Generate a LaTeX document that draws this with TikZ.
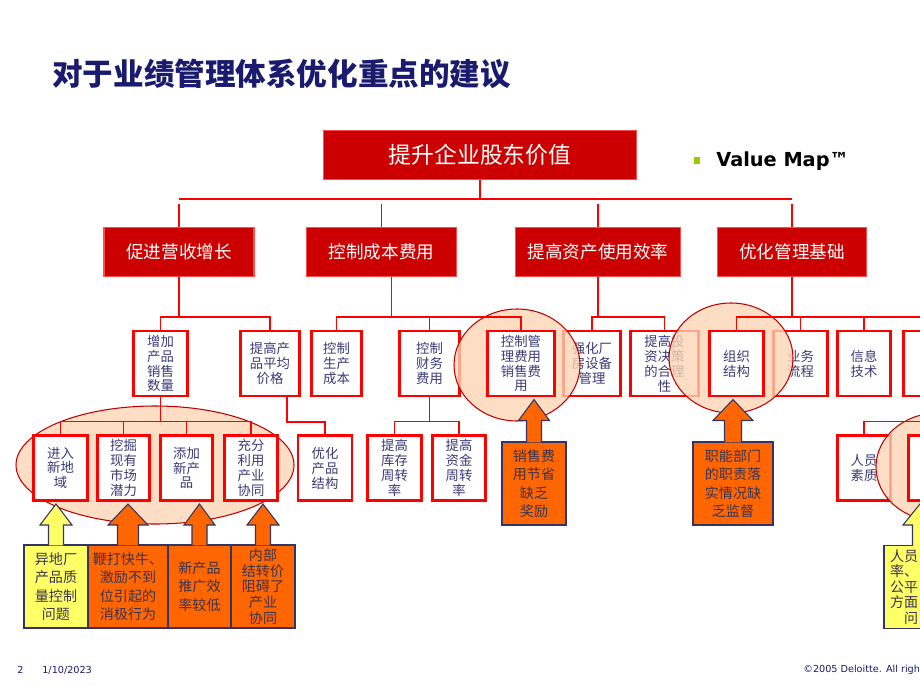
\documentclass[tikz,border=0pt]{standalone}
\usepackage{fontspec}
\usepackage{tikz}
\usetikzlibrary{calc}
\newfontfamily\cjk{Noto Sans CJK SC}
\newfontfamily\latin{DejaVu Sans}

\definecolor{boxred}{HTML}{CC0000}
\definecolor{linered}{HTML}{FF0000}
\definecolor{navy}{HTML}{1A1A6E}
\definecolor{txtblue}{HTML}{3B3B77}
\definecolor{peach}{HTML}{FDD5B4}
\definecolor{ellred}{HTML}{C00000}
\definecolor{orng}{HTML}{FF6600}
\definecolor{yel}{HTML}{FFFF66}
\definecolor{arrnavy}{HTML}{333366}
\definecolor{bullet}{HTML}{99CC00}
\definecolor{qtext}{HTML}{3A3350}

\def\px{0.02cm}

\tikzset{
  main/.style={fill=boxred, draw=red!70, line width=0.6pt, text=white, inner sep=0pt,
    minimum height=49*\px, font=\cjk\fontsize{10}{12}\selectfont},
  sub/.style={fill=white, draw=linered, line width=1.7pt, text=txtblue, align=center,
    inner sep=0pt, minimum height=65*\px, font=\cjk\fontsize{7.6}{8.5}\selectfont},
  link/.style={draw=linered, line width=0.7pt},
  hl/.style={draw=ellred, line width=0.6pt, fill=peach, fill opacity=0.78},
  cause/.style={draw=arrnavy, line width=0.6pt, text=qtext, align=center, inner sep=0pt,
    minimum height=83*\px, font=\cjk\fontsize{8}{10.5}\selectfont},
  arr/.style={draw=arrnavy, line width=0.6pt},
}

% block arrow from the north of #1 up to the south of #2
\newcommand{\uparr}[5]{%
  \filldraw[arr, fill=#5] let \p1=(#1.north), \p2=(#2.south) in
    (\x1-#3*\px, \y1-1*\px) -- (\x1-#3*\px, \y2-23*\px) -- (\x1-#4*\px, \y2-23*\px)
    -- (\x1, \y2-2*\px) -- (\x1+#4*\px, \y2-23*\px) -- (\x1+#3*\px, \y2-23*\px)
    -- (\x1+#3*\px, \y1-1*\px);
}

\begin{document}
\begin{tikzpicture}[x=\px, y=-\px]
  \useasboundingbox (0,0) rectangle (920,690);
  \clip (0,0) rectangle (920,690);

  \coordinate (r1) at (0,199);
  \coordinate (r1b) at (0,204);
  \coordinate (r3) at (0,317);
  \coordinate (r4) at (0,421.5);

  % title and labels
  \node[anchor=west, text=navy, inner sep=0pt, font=\cjk\bfseries\fontsize{17.4}{20}\selectfont] (title) at (52,74) {对于业绩管理体系优化重点的建议};
  \fill[bullet] (694,157) rectangle (700,164);
  \node[anchor=west, inner sep=0pt, font=\latin\bfseries\fontsize{11}{13}\selectfont] (vmap) at (716,161) {Value Map™};
  \node[anchor=west, text=navy, inner sep=0pt, font=\latin\fontsize{5.5}{7}\selectfont] (pg) at (17,670) {2};
  \node[anchor=west, text=navy, inner sep=0pt, font=\latin\fontsize{5.5}{7}\selectfont] (date) at (42,670) {1/10/2023};
  \node[anchor=west, text=navy, inner sep=0pt, font=\latin\fontsize{5.5}{7}\selectfont] (copy) at (803,670) {©2005 Deloitte. All rights reserved.};

  % top and second level
  \node[main, minimum width=313*\px, font=\cjk\fontsize{13}{15}\selectfont] (top) at (480,155) {提升企业股东价值};
  \node[main, minimum width=150*\px] (b1) at (179,252) {促进营收增长};
  \node[main, minimum width=150*\px] (b2) at (381.5,252) {控制成本费用};
  \node[main, minimum width=165*\px] (b3) at (598,252) {提高资产使用效率};
  \node[main, minimum width=149*\px] (b4) at (792,252) {优化管理基础};

  % boxes under the highlights
  \node[sub, minimum width=54*\px] (c1) at (160.5,363.5) {增加\\产品\\销售\\数量};
  \node[sub, minimum width=59*\px] (c2) at (270,363.5) {提高产\\品平均\\价格};
  \node[sub, minimum width=50*\px] (c3) at (336.5,363.5) {控制\\生产\\成本};
  \node[sub, minimum width=60*\px] (c4) at (429.5,363.5) {控制\\财务\\费用};
  \node[sub, minimum width=57*\px] (c6) at (592,363.5) {强化厂\\房设备\\管理};
  \node[sub, minimum width=68*\px] (c7) at (664.5,363.5) {提高投\\资决策\\的合理\\性};
  \node[sub, minimum width=54*\px] (c9) at (800.5,363.5) {业务\\流程};
  \node[sub, minimum width=53*\px] (c10) at (864,363.5) {信息\\技术};
  \node[sub, minimum width=54*\px] (d5) at (325,468) {优化\\产品\\结构};
  \node[sub, minimum width=54*\px] (d6) at (394.5,468) {提高\\库存\\周转\\率};
  \node[sub, minimum width=53*\px] (d7) at (459,468) {提高\\资金\\周转\\率};
  \node[sub, minimum width=53*\px] (d8) at (864,468) {人员\\素质};

  % highlights
  \draw[hl] (155,465) ellipse [x radius=139, y radius=59];
  \draw[hl] (517,365) ellipse [x radius=63, y radius=56];
  \draw[hl] (731,358) ellipse [x radius=62, y radius=55];
  \draw[hl] (938,467) ellipse [x radius=62, y radius=54];

  % boxes above the highlights
  \node[sub, minimum width=67*\px] (c5) at (521,363.5) {控制管\\理费用\\销售费\\用};
  \node[sub, minimum width=54*\px] (c8) at (736.5,363.5) {组织\\结构};
  \node[sub, minimum width=55*\px] (c11) at (931,363.5) {};
  \node[sub, minimum width=54*\px] (d1) at (60.5,468) {进入\\新地\\域};
  \node[sub, minimum width=52*\px] (d2) at (123.5,468) {挖掘\\现有\\市场\\潜力};
  \node[sub, minimum width=52*\px] (d3) at (186.5,468) {添加\\新产\\品};
  \node[sub, minimum width=53*\px] (d4) at (251,468) {充分\\利用\\产业\\协同};
  \node[sub, minimum width=53*\px] (d9) at (935,468) {};

  % tree lines
  \draw[link] (top.south) -- (top.south |- r1);
  \draw[link] (b1.north |- r1) -- (b4.north |- r1);
  \foreach \b in {b1,b2,b3,b4}
    \draw[link] (\b.north) -- (\b.north |- r1b);

  \draw[link] (b1.south) -- (b1.south |- r3);
  \draw[link] (c1.north) |- (c2.north |- r3) -- (c2.north);
  \draw[link] ([xshift=10*\px]b2.south) -- ++(0,40.5);
  \draw[link] (c3.north) |- (c5.north |- r3) -- (c5.north);
  \draw[link] (c4.north) -- (c4.north |- r3);
  \draw[link] (b3.south) -- (b3.south |- r3);
  \draw[link] (c6.north) |- (c7.north |- r3) -- (c7.north);
  \draw[link] (b4.south) -- (b4.south |- r3);
  \draw[link] (c8.north) |- (c11.north |- r3) -- (c11.north);
  \draw[link] (c9.north) -- (c9.north |- r3);
  \draw[link] (c10.north) -- (c10.north |- r3);

  \draw[link] (c1.south) -- (c1.south |- r4);
  \draw[link] (d1.north) |- (d4.north |- r4) -- (d4.north);
  \draw[link] (d2.north) -- (d2.north |- r4);
  \draw[link] (d3.north) -- (d3.north |- r4);
  \draw[link] ([xshift=17*\px]c2.south) -- ++(0,24.5) -| (d5.north);
  \draw[link] (c4.south) -- (c4.south |- r4);
  \draw[link] (d6.north) |- (d7.north |- r4) -- (d7.north);
  \draw[link] (c11.south) -- (c11.south |- r4);
  \draw[link] (d8.north) |- (d9.north |- r4) -- (d9.north);

  % causes
  \node[cause, fill=yel, minimum width=64*\px] (q1) at (56,586.5) {异地厂\\产品质\\量控制\\问题};
  \node[cause, fill=orng, minimum width=80*\px] (q2) at (128,586.5) {鞭打快牛、\\激励不到\\位引起的\\消极行为};
  \node[cause, fill=orng, minimum width=63*\px] (q3) at (199.5,586.5) {新产品\\推广效\\率较低};
  \node[cause, fill=orng, minimum width=64*\px, font=\cjk\fontsize{8}{9}\selectfont] (q4) at (263,586.5) {内部\\结转价\\阻碍了\\产业\\协同};
  \node[cause, fill=orng, minimum width=64*\px] (q5) at (534,483.5) {销售费\\用节省\\缺乏\\奖励};
  \node[cause, fill=orng, minimum width=80*\px] (q6) at (733,483.5) {职能部门\\的职责落\\实情况缺\\乏监督};
  \node[cause, fill=yel, minimum width=72*\px, text width=60*\px, align=left, font=\cjk\fontsize{8}{8.8}\selectfont] (q7) at (920,587) {人员\\率、\\公平\\方面\\\hspace*{1em}问};

  \uparr{q1}{d1}{7.5}{16}{yel}
  \uparr{q2}{d2}{10.5}{20}{orng}
  \uparr{q3}{d3}{7.5}{15.5}{orng}
  \uparr{q4}{d4}{7.5}{16}{orng}
  \uparr{q5}{c5}{7.5}{15.5}{orng}
  \uparr{q6}{c8}{8.5}{20}{orng}
  \uparr{q7}{d9}{7.5}{17}{yel}
\end{tikzpicture}
\end{document}
